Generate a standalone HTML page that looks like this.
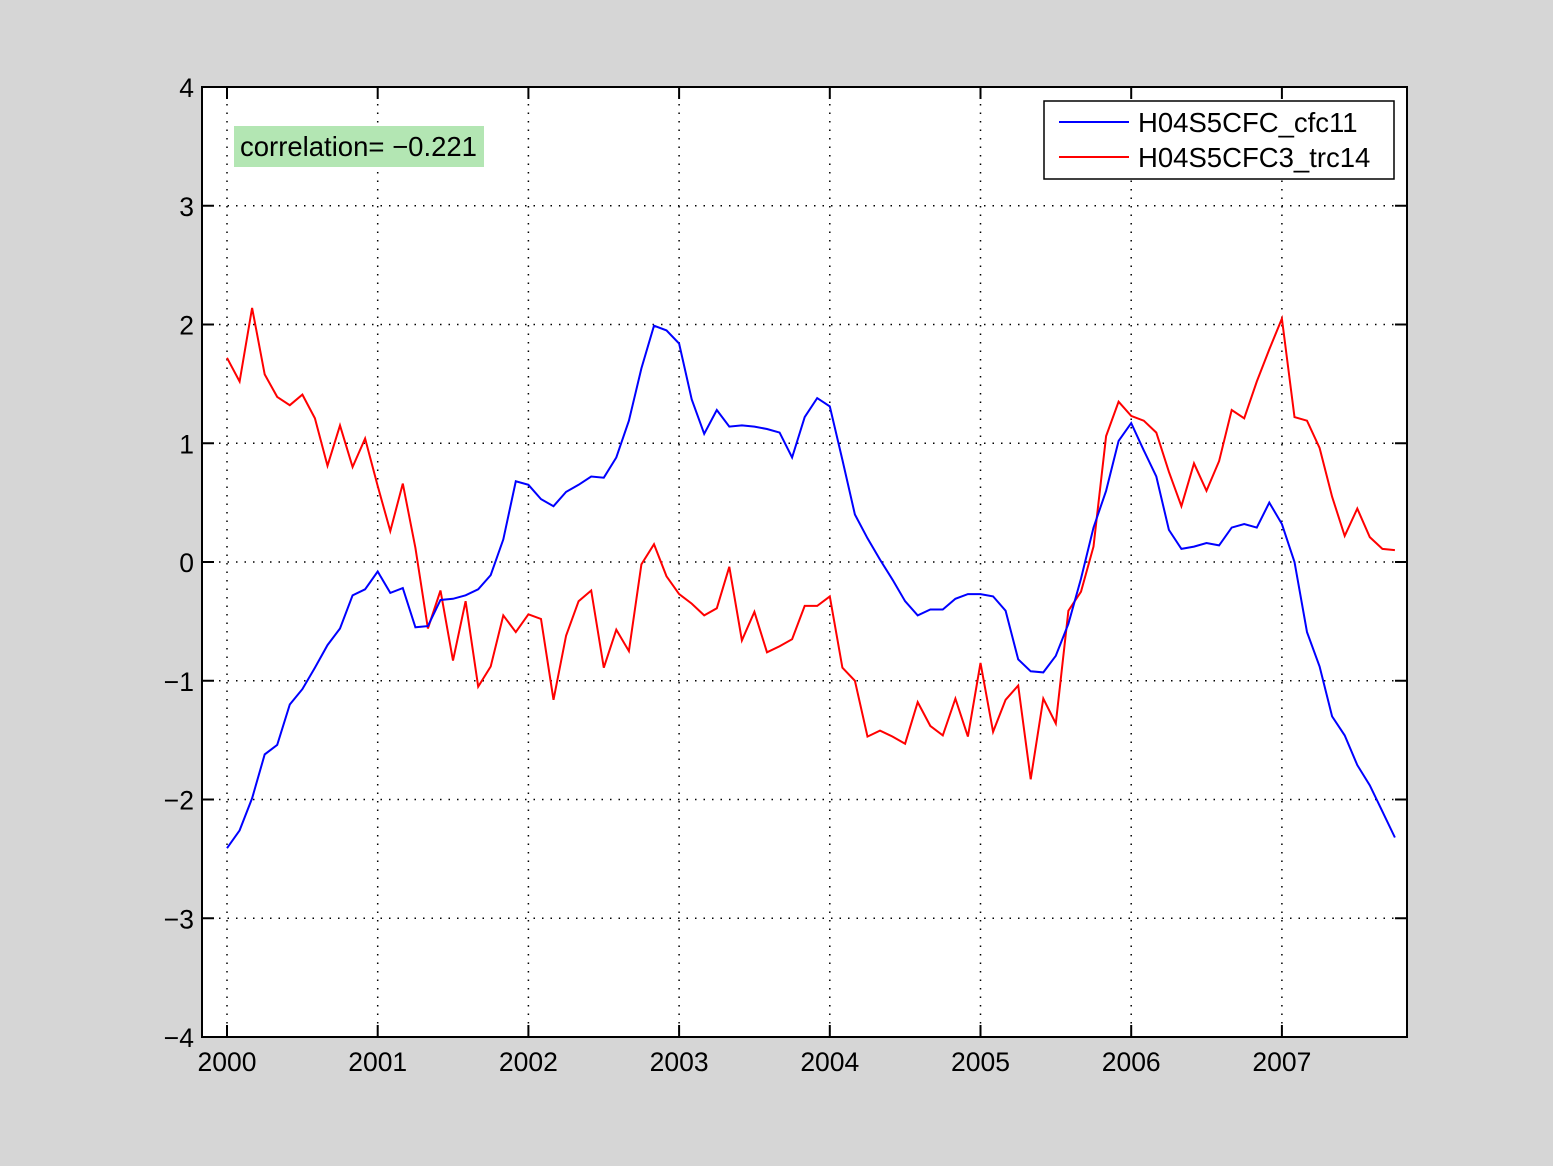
<!DOCTYPE html>
<html><head><meta charset="utf-8"><style>
html,body{margin:0;padding:0;background:#d6d6d6;}
svg{display:block;font-family:"Liberation Sans",sans-serif;}
</style></head><body>
<svg id="chart" width="1553" height="1166">
<rect x="0" y="0" width="1553" height="1166" fill="#d6d6d6"/>
<rect x="202" y="87" width="1205" height="950" fill="#fff"/>
<g id="grid"></g>
<g id="ticks"></g>
<g id="series"></g>
<rect x="202" y="87" width="1205" height="950" fill="none" stroke="#000" stroke-width="2"/>
<rect x="234" y="126" width="250" height="41" fill="#b3e6b3"/>
<text x="240" y="156" font-size="27.5" fill="#000">correlation= −0.221</text>
<g>
<rect x="1044" y="101" width="350" height="78" fill="#fff" stroke="#000" stroke-width="1.5"/>
<line x1="1059" y1="122" x2="1129" y2="122" stroke="#0000ff" stroke-width="2"/>
<text x="1138" y="132" font-size="27.5">H04S5CFC_cfc11</text>
<line x1="1059" y1="157" x2="1129" y2="157" stroke="#ff0000" stroke-width="2"/>
<text x="1138" y="167" font-size="27.5">H04S5CFC3_trc14</text>
</g>
</svg>
<script>
const xTicks=[2000,2001,2002,2003,2004,2005,2006,2007];
const yTicks=[-4,-3,-2,-1,0,1,2,3,4];
const yTickLabels=["−4","−3","−2","−1","0","1","2","3","4"];
const startYear=2000;
const cfc11=[-2.41,-2.26,-1.99,-1.62,-1.54,-1.20,-1.07,-0.89,-0.70,-0.56,-0.28,-0.23,-0.08,-0.26,-0.22,-0.55,-0.54,-0.32,-0.31,-0.28,-0.23,-0.11,0.19,0.68,0.65,0.53,0.47,0.59,0.65,0.72,0.71,0.88,1.19,1.63,1.99,1.95,1.84,1.37,1.08,1.28,1.14,1.15,1.14,1.12,1.09,0.88,1.22,1.38,1.31,0.86,0.40,0.20,0.02,-0.15,-0.33,-0.45,-0.40,-0.40,-0.31,-0.27,-0.27,-0.29,-0.41,-0.82,-0.92,-0.93,-0.79,-0.52,-0.14,0.29,0.60,1.02,1.17,0.94,0.72,0.27,0.11,0.13,0.16,0.14,0.29,0.32,0.29,0.50,0.32,0.00,-0.59,-0.88,-1.30,-1.46,-1.71,-1.88,-2.10,-2.32];
const trc14=[1.72,1.52,2.14,1.58,1.39,1.32,1.41,1.21,0.81,1.15,0.80,1.04,0.64,0.26,0.66,0.12,-0.56,-0.24,-0.83,-0.33,-1.05,-0.88,-0.45,-0.59,-0.44,-0.48,-1.16,-0.62,-0.33,-0.24,-0.89,-0.57,-0.75,-0.02,0.15,-0.12,-0.27,-0.35,-0.45,-0.39,-0.04,-0.66,-0.42,-0.76,-0.71,-0.65,-0.37,-0.37,-0.29,-0.89,-1.00,-1.47,-1.42,-1.47,-1.53,-1.18,-1.38,-1.46,-1.15,-1.47,-0.85,-1.43,-1.16,-1.04,-1.83,-1.15,-1.36,-0.41,-0.25,0.13,1.06,1.35,1.23,1.19,1.09,0.76,0.47,0.83,0.60,0.85,1.28,1.21,1.52,1.79,2.05,1.22,1.19,0.96,0.55,0.22,0.45,0.21,0.11,0.10];

const NS='http://www.w3.org/2000/svg';
const L=202,R=1407,T=87,B=1037;
function xs(yr){return 227+(yr-2000)*150.7;}
function ys(v){return T+(4-v)*(B-T)/8;}
function mk(tag,attrs,parent){const e=document.createElementNS(NS,tag);for(const k in attrs)e.setAttribute(k,attrs[k]);parent.appendChild(e);return e;}
const grid=document.getElementById('grid'),ticks=document.getElementById('ticks'),series=document.getElementById('series');
xTicks.forEach(t=>{
  const x=xs(t);
  const g=mk('line',{x1:x,y1:T,x2:x,y2:B,stroke:'#000','stroke-width':1.5,'stroke-dasharray':'1.5 7'},grid);
  
  
  const t1=mk('line',{x1:x,y1:B,x2:x,y2:B-12,stroke:'#000','stroke-width':2},ticks);
  
  
  const t2=mk('line',{x1:x,y1:T,x2:x,y2:T+12,stroke:'#000','stroke-width':2},ticks);
  
  
  const lb=mk('text',{x:x,y:B+34,'font-size':26.5,'text-anchor':'middle'},ticks);
  lb.textContent=t;
  
  
});
yTicks.forEach((t,i)=>{
  const y=ys(t);
  if(t>-4&&t<4){
    const g=mk('line',{x1:L,y1:y,x2:R,y2:y,stroke:'#000','stroke-width':1.5,'stroke-dasharray':'1.5 7'},grid);
    
    
  }
  const t1=mk('line',{x1:L,y1:y,x2:L+12,y2:y,stroke:'#000','stroke-width':2},ticks);
  
  
  const t2=mk('line',{x1:R,y1:y,x2:R-12,y2:y,stroke:'#000','stroke-width':2},ticks);
  
  
  const lb=mk('text',{x:L-8,y:y+10,'font-size':26.5,'text-anchor':'end'},ticks);
  lb.textContent=yTickLabels[i];
  
  
});
function draw(vals,color,name){
  const pts=vals.map((v,i)=>xs(startYear+i/12).toFixed(1)+','+ys(v).toFixed(1)).join(' ');
  const p=mk('polyline',{points:pts,fill:'none',stroke:color,'stroke-width':2,'stroke-linejoin':'miter'},series);
  
  
}
draw(trc14,'#ff0000','line-trc14');
draw(cfc11,'#0000ff','line-cfc11');
</script>
</body></html>
